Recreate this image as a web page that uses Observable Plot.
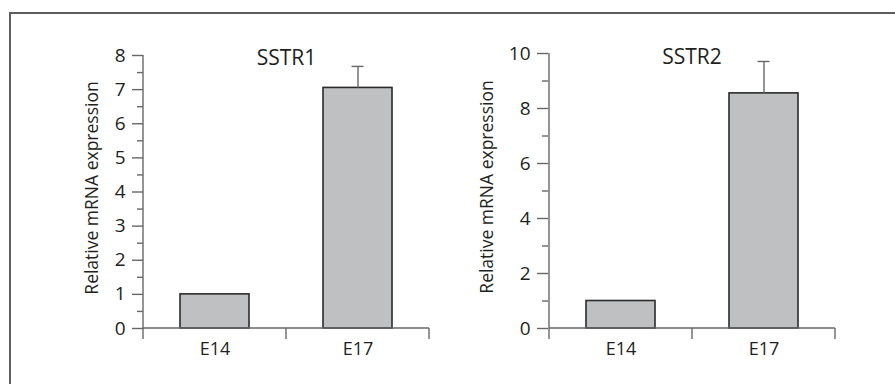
<!DOCTYPE html>
<html><head><meta charset="utf-8">
<script src="https://cdn.jsdelivr.net/npm/d3@7"></script>
<script src="https://cdn.jsdelivr.net/npm/@observablehq/plot@0.6"></script>
<style>
body{margin:0;background:#fff;}
#wrap{position:relative;width:895px;height:384px;overflow:hidden;font-family:"Open Sans",sans-serif;background:#fff;}
#frame{position:absolute;left:9px;top:12px;width:900px;height:400px;border-top:2px solid #5e5e5e;border-left:2px solid #5e5e5e;}
.panel{position:absolute;top:0;}
</style></head><body>
<div id="wrap"><div id="frame"></div><div id="p1" class="panel" style="left:0"></div><div id="p2" class="panel" style="left:440px"></div></div>
<script>
const categories = ["E14", "E17"];
const sstr1Values = [1.0, 7.05];
const sstr1Errors = [0, 0.63];
const sstr2Values = [1.0, 8.55];
const sstr2Errors = [0, 1.16];
const sstr1MajorTicks = [0, 1, 2, 3, 4, 5, 6, 7, 8];
const sstr1MinorTicks = [0.5, 1.5, 2.5, 3.5, 4.5, 5.5, 6.5, 7.5];
const sstr2MajorTicks = [0, 2, 4, 6, 8, 10];
const sstr2MinorTicks = [1, 3, 5, 7, 9];
const titles = ["SSTR1", "SSTR2"];
const yLabel = "Relative mRNA expression";

const axisColor = "#666769";
const textColor = "#231f20";

function axisFrame(extend) {
  return (index, scales) => {
    const x = scales.x, y = scales.y;
    const bw = typeof x.bandwidth === "function" ? x.bandwidth() : scales.scales.x.bandwidth;
    const dom = x.domain();
    const edges = dom.map(d => x(d)).concat([x(dom[dom.length - 1]) + bw]);
    const yd = y.domain();
    const y0 = y(0), yTop = y(Math.max(...yd));
    const g = d3.create("svg:g").attr("stroke", axisColor).attr("stroke-width", 1.4).attr("fill", "none");
    g.append("line").attr("x1", edges[0]).attr("x2", edges[0]).attr("y1", yTop).attr("y2", y0 + extend);
    g.append("line").attr("x1", edges[0]).attr("x2", edges[edges.length - 1]).attr("y1", y0).attr("y2", y0);
    for (const e of edges.slice(1)) {
      g.append("line").attr("x1", e).attr("x2", e).attr("y1", y0).attr("y2", y0 + extend);
    }
    return g.node();
  };
}

function panel(values, errors, major, minor, title, o) {
  const data = categories.map((c, i) => ({cat: c, value: values[i], err: errors[i], hi: values[i] + errors[i]}));
  const errData = data.filter(d => d.err > 0);
  return Plot.plot({
    width: o.width, height: 384,
    marginLeft: o.left, marginRight: o.right, marginTop: o.top, marginBottom: 56,
    style: {fontFamily: "'Open Sans', sans-serif", fontSize: "18px", color: textColor, background: "transparent", overflow: "visible"},
    x: {domain: categories, padding: 0, axis: null},
    y: {domain: [0, major[major.length - 1]], axis: null},
    marks: [
      Plot.barY(data, {x: "cat", y: "value", fill: "#bfc0c2", stroke: "#2b2b2b", strokeWidth: 1.6, insetLeft: 37, insetRight: 37}),
      Plot.ruleX(errData, {x: "cat", y1: "value", y2: "hi", stroke: axisColor, strokeWidth: 1.4}),
      Plot.tickY(errData, {x: "cat", y: "hi", stroke: axisColor, strokeWidth: 1.4, insetLeft: 65.5, insetRight: 65.5}),
      Plot.axisY({ticks: major, tickSize: 11, tickPadding: 7, stroke: axisColor, strokeWidth: 1.4, fill: textColor, fontSize: 19, label: null}),
      Plot.axisY({ticks: minor, tickSize: 6, tickFormat: () => "", stroke: axisColor, strokeWidth: 1.4, label: null}),
      Plot.axisX({tickSize: 0, tickPadding: 14, fill: textColor, fontSize: 18, label: null}),
      axisFrame(11),
      Plot.text([yLabel], {text: d => d, frameAnchor: "left", textAnchor: "middle", lineAnchor: "middle", rotate: -90, dx: o.labelDx, dy: -4, fontSize: 17.5, fill: textColor}),
      Plot.text([title], {text: d => d, frameAnchor: "top", lineAnchor: "bottom", dy: o.titleDy, fontSize: 21, fill: textColor})
    ]
  });
}

document.getElementById("p1").appendChild(panel(sstr1Values, sstr1Errors, sstr1MajorTicks, sstr1MinorTicks, titles[0],
  {width: 440, left: 143, right: 11, top: 55, labelDx: -51.5, titleDy: 9}));
document.getElementById("p2").appendChild(panel(sstr2Values, sstr2Errors, sstr2MajorTicks, sstr2MinorTicks, titles[1],
  {width: 455, left: 108, right: 60, top: 53, labelDx: -61, titleDy: 10}));
</script>
</body></html>
